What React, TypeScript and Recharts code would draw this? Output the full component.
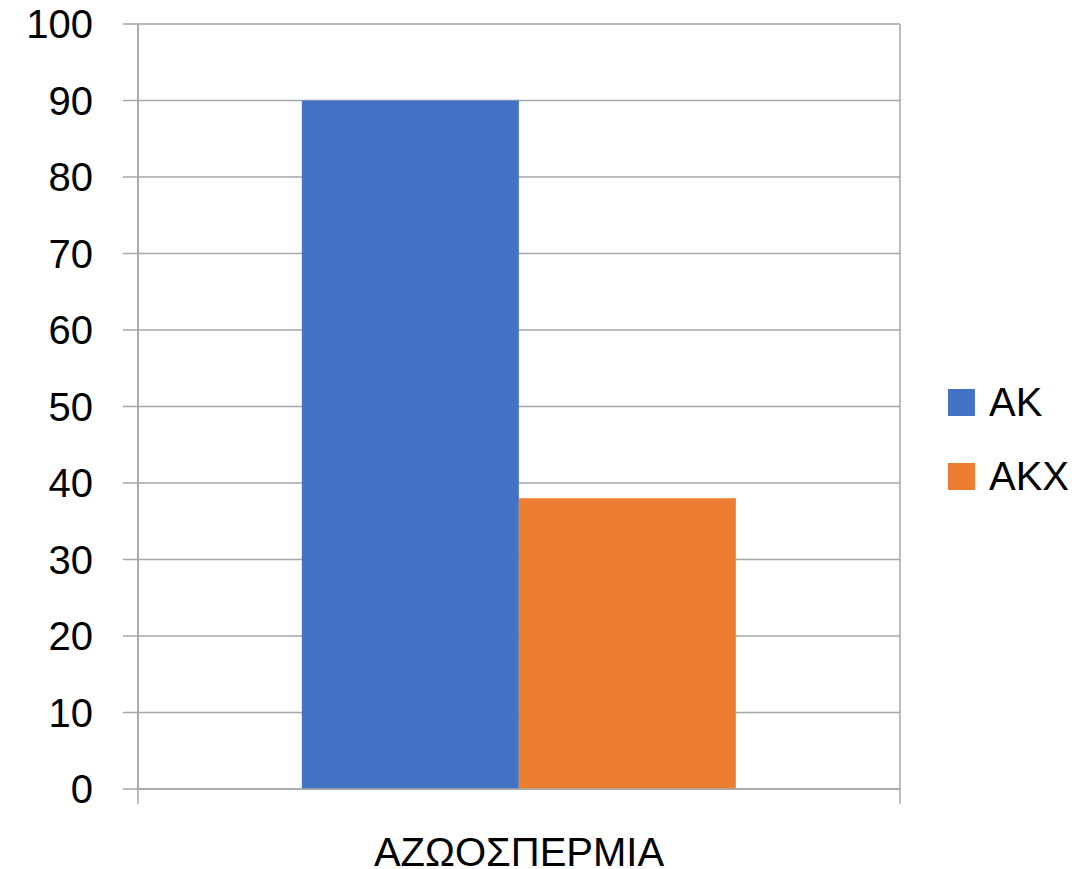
import { BarChart, Bar, XAxis, YAxis, CartesianGrid } from "recharts";

const categories = ["ΑΖΩΟΣΠΕΡΜΙΑ"];
const akValues = [90];
const akxValues = [38];
const yTicks = [0, 10, 20, 30, 40, 50, 60, 70, 80, 90, 100];

const series = [
  { key: "ak", name: "ΑΚ", color: "#4472C4" },
  { key: "akx", name: "ΑΚΧ", color: "#ED7D31" },
];

const data = categories.map((name, i) => ({
  name,
  ak: akValues[i],
  akx: akxValues[i],
}));

const FONT = "'Liberation Sans', Arial, sans-serif";
const GRID = "#A6A6A6";

// category label plus the boundary tick marks under the axis
function CategoryTick(props: any) {
  const { x, y, payload, width } = props;
  const half = payload && payload.offset ? payload.offset : width / 2;
  const axisY = y - 15;
  return (
    <g>
      <line x1={x - half} x2={x - half} y1={axisY} y2={axisY + 15} stroke={GRID} strokeWidth={1.5} />
      <line x1={x + half} x2={x + half} y1={axisY} y2={axisY + 15} stroke={GRID} strokeWidth={1.5} />
      <text x={x} y={axisY + 77} textAnchor="middle" fontSize={40} fontFamily={FONT} fill="#000">
        {payload.value}
      </text>
    </g>
  );
}

function LegendBox() {
  return (
    <div style={{ position: "absolute", left: 948, top: 389, fontFamily: FONT }}>
      {series.map((s) => (
        <div key={s.key} style={{ display: "flex", alignItems: "center", height: 27, marginBottom: 47 }}>
          <div style={{ width: 27, height: 27, background: s.color, marginRight: 14 }} />
          <span style={{ fontSize: 40, lineHeight: "27px", color: "#000" }}>{s.name}</span>
        </div>
      ))}
    </div>
  );
}

export default function App() {
  return (
    <div style={{ position: "absolute", left: 0, top: 0, width: 1084, height: 869, background: "#fff" }}>
      <BarChart
        width={1084}
        height={869}
        data={data}
        margin={{ top: 24, right: 184, bottom: 50, left: 0 }}
        barCategoryGap="21.5%"
        barGap={0}
      >
        <CartesianGrid
          stroke={GRID}
          strokeWidth={1.5}
          verticalCoordinatesGenerator={({ offset }: any) => [offset.left, offset.left + offset.width]}
        />
        <XAxis
          dataKey="name"
          height={30}
          axisLine={{ stroke: GRID, strokeWidth: 1.5 }}
          tickLine={false}
          tickSize={15}
          tickMargin={0}
          tick={<CategoryTick />}
          interval={0}
        />
        <YAxis
          domain={[0, 100]}
          ticks={yTicks}
          width={138}
          axisLine={{ stroke: GRID, strokeWidth: 1.5 }}
          tickLine={{ stroke: GRID, strokeWidth: 1.5 }}
          tickSize={15}
          tickMargin={30}
          tick={{ fontSize: 40, fontFamily: FONT, fill: "#000" }}
        />
        {series.map((s) => (
          <Bar key={s.key} dataKey={s.key} name={s.name} fill={s.color} isAnimationActive={false} />
        ))}
      </BarChart>
      <LegendBox />
    </div>
  );
}
